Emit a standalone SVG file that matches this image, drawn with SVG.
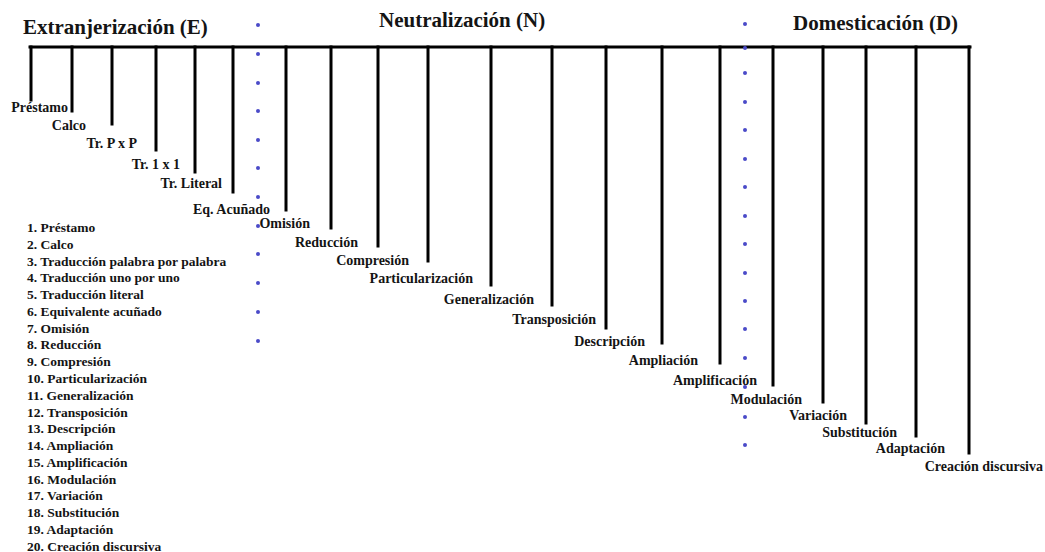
<svg xmlns="http://www.w3.org/2000/svg" width="1045" height="552" viewBox="0 0 1045 552">
<style>
text{font-family:"Liberation Serif","Times New Roman",serif;font-weight:bold;fill:#141414}
.t{font-size:21px}
.l{font-size:14px}
.li{font-size:13.5px}
.c{stroke:#000;stroke-width:3;fill:none;stroke-linecap:square}
.d{fill:#4a4ac8}
</style>
<rect width="1045" height="552" fill="#fff"/>
<g id="titles">
<g id="title-E"><text class="t" x="23" y="34">Extranjerización (E)</text></g>
<g id="title-N"><text class="t" x="379" y="27">Neutralización (N)</text></g>
<g id="title-D"><text class="t" x="793" y="30">Domesticación (D)</text></g>
</g>
<g id="connectors">
<path class="c" d="M30 47H970"/>
<path class="c" d="M31 47V100M72 47V111M112 47V124M156 47V150M195 47V172M233 47V192M286 47V210M331 47V228M378 47V246M428 47V261M491 47V285M552 47V305M606 47V328M662 47V343M720 47V363M773 47V385M823 47V402M866 47V423M916 47V436M969 47V453"/>
</g>
<g id="n1"><text class="l" x="68" y="112" text-anchor="end">Préstamo</text></g>
<g id="n2"><text class="l" x="86" y="130" text-anchor="end">Calco</text></g>
<g id="n3"><text class="l" x="137" y="148" text-anchor="end">Tr. P x P</text></g>
<g id="n4"><text class="l" x="180" y="169" text-anchor="end">Tr. 1 x 1</text></g>
<g id="n5"><text class="l" x="222" y="188" text-anchor="end">Tr. Literal</text></g>
<g id="n6"><text class="l" x="270" y="214" text-anchor="end">Eq. Acuñado</text></g>
<g id="n7"><text class="l" x="310" y="228" text-anchor="end">Omisión</text></g>
<g id="n8"><text class="l" x="358" y="247" text-anchor="end">Reducción</text></g>
<g id="n9"><text class="l" x="409" y="265" text-anchor="end">Compresión</text></g>
<g id="n10"><text class="l" x="473" y="283" text-anchor="end">Particularización</text></g>
<g id="n11"><text class="l" x="534" y="304" text-anchor="end">Generalización</text></g>
<g id="n12"><text class="l" x="596" y="324" text-anchor="end">Transposición</text></g>
<g id="n13"><text class="l" x="645" y="346" text-anchor="end">Descripción</text></g>
<g id="n14"><text class="l" x="698" y="365" text-anchor="end">Ampliación</text></g>
<g id="n15"><text class="l" x="757" y="385" text-anchor="end">Amplificación</text></g>
<g id="n16"><text class="l" x="802" y="404" text-anchor="end">Modulación</text></g>
<g id="n17"><text class="l" x="847" y="420" text-anchor="end">Variación</text></g>
<g id="n18"><text class="l" x="897" y="437" text-anchor="end">Substitución</text></g>
<g id="n19"><text class="l" x="945" y="453" text-anchor="end">Adaptación</text></g>
<g id="n20"><text class="l" x="1043" y="471" text-anchor="end">Creación discursiva</text></g>
<g id="legend">
<text class="li" x="27" y="232">1. Préstamo</text>
<text class="li" x="27" y="248.8">2. Calco</text>
<text class="li" x="27" y="265.5">3. Traducción palabra por palabra</text>
<text class="li" x="27" y="282.3">4. Traducción uno por uno</text>
<text class="li" x="27" y="299.1">5. Traducción literal</text>
<text class="li" x="27" y="315.9">6. Equivalente acuñado</text>
<text class="li" x="27" y="332.6">7. Omisión</text>
<text class="li" x="27" y="349.4">8. Reducción</text>
<text class="li" x="27" y="366.2">9. Compresión</text>
<text class="li" x="27" y="382.9">10. Particularización</text>
<text class="li" x="27" y="399.7">11. Generalización</text>
<text class="li" x="27" y="416.5">12. Transposición</text>
<text class="li" x="27" y="433.2">13. Descripción</text>
<text class="li" x="27" y="450">14. Ampliación</text>
<text class="li" x="27" y="466.8">15. Amplificación</text>
<text class="li" x="27" y="483.6">16. Modulación</text>
<text class="li" x="27" y="500.3">17. Variación</text>
<text class="li" x="27" y="517.1">18. Substitución</text>
<text class="li" x="27" y="533.9">19. Adaptación</text>
<text class="li" x="27" y="550.6">20. Creación discursiva</text>
</g>
<g id="dots-1">
<circle class="d" cx="258" cy="25" r="2"/><circle class="d" cx="258" cy="54" r="2"/><circle class="d" cx="258" cy="83" r="2"/><circle class="d" cx="258" cy="111" r="2"/><circle class="d" cx="258" cy="140" r="2"/><circle class="d" cx="258" cy="168" r="2"/><circle class="d" cx="258" cy="197" r="2"/><circle class="d" cx="258" cy="226" r="2"/><circle class="d" cx="258" cy="254" r="2"/><circle class="d" cx="258" cy="283" r="2"/><circle class="d" cx="258" cy="312" r="2"/><circle class="d" cx="258" cy="341" r="2"/>
</g>
<g id="dots-2">
<circle class="d" cx="745" cy="24" r="2"/><circle class="d" cx="745" cy="48" r="2"/><circle class="d" cx="745" cy="73" r="2"/><circle class="d" cx="745" cy="102" r="2"/><circle class="d" cx="745" cy="130" r="2"/><circle class="d" cx="745" cy="159" r="2"/><circle class="d" cx="745" cy="187" r="2"/><circle class="d" cx="745" cy="216" r="2"/><circle class="d" cx="745" cy="244" r="2"/><circle class="d" cx="745" cy="273" r="2"/><circle class="d" cx="745" cy="301" r="2"/><circle class="d" cx="745" cy="329" r="2"/><circle class="d" cx="745" cy="358" r="2"/><circle class="d" cx="745" cy="387" r="2"/><circle class="d" cx="745" cy="417" r="2"/><circle class="d" cx="745" cy="445" r="2"/>
</g>
</svg>
